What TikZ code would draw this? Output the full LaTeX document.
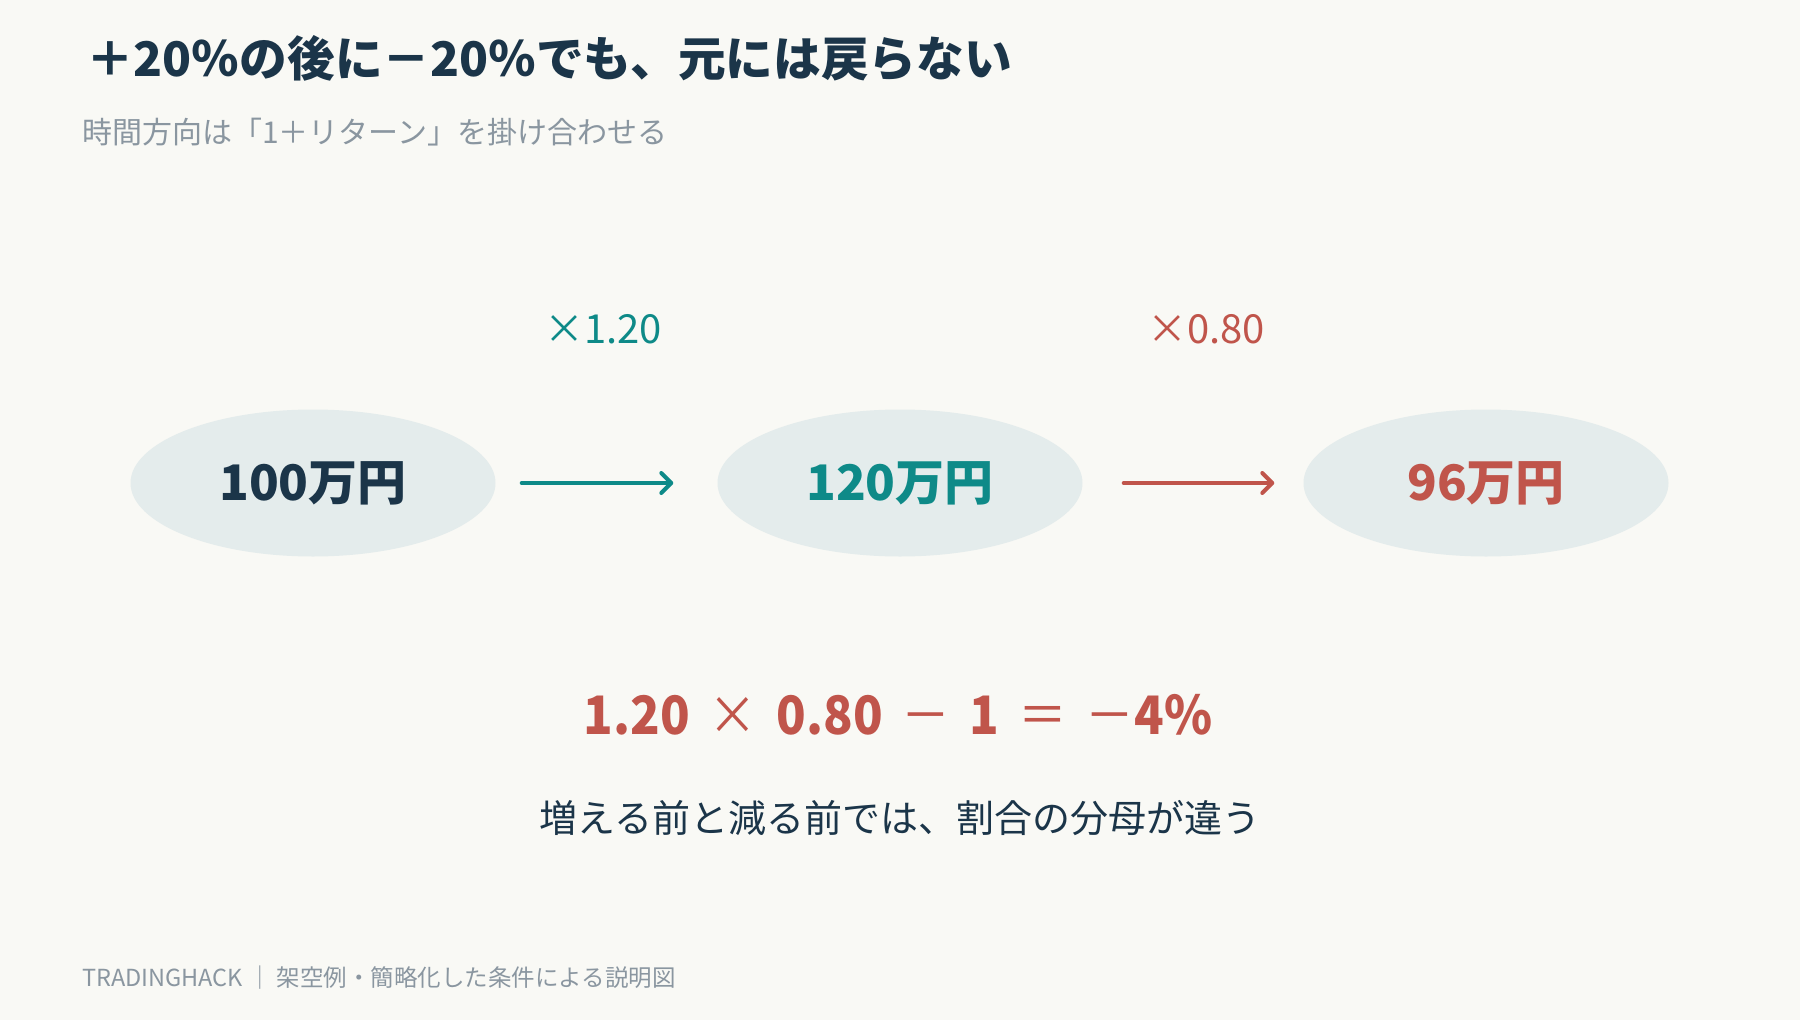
\documentclass[tikz,border=0pt]{standalone}
\usepackage{fontspec}
\setmainfont{Noto Sans CJK JP}
\newfontfamily\eqfont[FakeStretch=0.92]{Noto Sans CJK JP}
\usetikzlibrary{arrows.meta,shapes.geometric}
\definecolor{bgc}{HTML}{F9F9F5}
\definecolor{ellc}{HTML}{E4ECEC}
\definecolor{navy}{HTML}{1B3549}
\definecolor{teal}{HTML}{0E8A88}
\definecolor{redc}{HTML}{C0554B}
\definecolor{grayc}{HTML}{8A96A0}
\newcommand{\eqgap}{\hspace{19pt}}
\tikzset{
  stage/.style={ellipse, fill=ellc, minimum width=365pt, minimum height=147pt, inner sep=0pt,
    font=\fontsize{49}{54}\selectfont\bfseries},
  flow/.style={line width=4pt, line cap=round, -{Straight Barb[length=10pt,width=20pt,line cap=round,line join=round]}},
  factor/.style={anchor=base, font=\fontsize{40}{44}\selectfont},
  tx/.style={inner sep=0pt}
}
\begin{document}
\begin{tikzpicture}[x=1pt,y=-1pt]
\fill[bgc] (0,0) rectangle (1800,1020);
\useasboundingbox (0,0) rectangle (1800,1020);
\node[tx, anchor=base west, text=navy, font=\fontsize{47.7}{52}\selectfont\bfseries] (title) at (86,76) {＋20％の後に－20％でも、元には戻らない};
\node[tx, anchor=base west, text=grayc, font=\fontsize{30}{34}\selectfont] (sub) at (82,143) {時間方向は「1＋リターン」を掛け合わせる};
\node[stage, text=navy] (a) at (313,483) {100万円};
\node[stage, text=teal] (b) at (900,483) {120万円};
\node[stage, text=redc] (c) at (1486,483) {96万円};
\draw[flow, teal, shorten <=26pt, shorten >=44pt] (a.east) -- (b.west);
\draw[flow, redc, shorten <=41pt, shorten >=29pt] (b.east) -- (c.west);
\node[tx, factor, text=teal] (f1) at (603,343) {×1.20};
\node[tx, factor, text=redc] (f2) at (1206,343) {×0.80};
\node[tx, anchor=base, text=redc, font=\eqfont\fontsize{53}{58}\selectfont\bfseries] (eq) at (898,734) {1.20\eqgap{\mdseries ×}\eqgap 0.80\eqgap{\mdseries －}\eqgap 1\eqgap{\mdseries ＝}\eqgap{\mdseries －}4\%};
\node[tx, anchor=base, text=navy, font=\fontsize{38}{42}\selectfont] (note) at (900,832) {増える前と減る前では、割合の分母が違う};
\node[tx, anchor=base west, text=grayc, font=\fontsize{23.5}{27}\selectfont] (foot) at (82,986) {TRADINGHACK ｜ 架空例・簡略化した条件による説明図};
\end{tikzpicture}
\end{document}
